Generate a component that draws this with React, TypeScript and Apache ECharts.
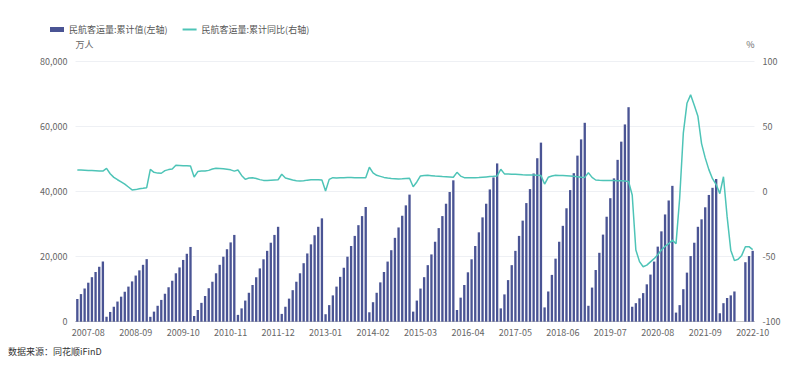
import React, { useEffect, useRef } from "react";
import * as echarts from "echarts";

// Monthly categories 2007-05 .. 2022-10
const startYear = 2007;
const startMonth = 5;
const monthCount = 186;
const categories: string[] = [];
for (let i = 0; i < monthCount; i++) {
  const m = startMonth - 1 + i;
  const y = startYear + Math.floor(m / 12);
  const mm = (m % 12) + 1;
  categories.push(`${y}-${mm < 10 ? "0" + mm : mm}`);
}

// 民航客运量:累计值 (万人), by year
const cum2007 = [7000, 8500, 10200, 12000, 13700, 15300, 16900, 18500];
const cum2008 = [1500, 3000, 4600, 6200, 7700, 9200, 10800, 12400, 14200, 15800, 17500, 19250];
const cum2009 = [1500, 3100, 4900, 6700, 8600, 10600, 12600, 14900, 16700, 19000, 20900, 23000];
const cum2010 = [1750, 3600, 5800, 7900, 10300, 12300, 14900, 17500, 20000, 22300, 24400, 26700];
const cum2011 = [2100, 4100, 6500, 8900, 11300, 13700, 16400, 19200, 21800, 24300, 26700, 29200];
const cum2012 = [2400, 4600, 7100, 9700, 12300, 14900, 18000, 21000, 23800, 26600, 29200, 31800];
const cum2013 = [2300, 5100, 8100, 10800, 13800, 16600, 20000, 23300, 26400, 29700, 32500, 35300];
const cum2014 = [2900, 6000, 8900, 12100, 15300, 18500, 22000, 25800, 29000, 32600, 35800, 39100];
const cum2015 = [3100, 6500, 10200, 13700, 17400, 20700, 24600, 28800, 32500, 36300, 39900, 43500];
const cum2016 = [3600, 7400, 11300, 15200, 19200, 23300, 27500, 32100, 36300, 40700, 44400, 48700];
const cum2017 = [4100, 8400, 12800, 17400, 21800, 26400, 31100, 36500, 40800, 45600, 50300, 55100];
const cum2018 = [4400, 9300, 14400, 19400, 24600, 29500, 34900, 40500, 45700, 51100, 56100, 61200];
const cum2019 = [4900, 10500, 15900, 21200, 26800, 32300, 38000, 44100, 49800, 55400, 60700, 66000];
const cum2020 = [4600, 5700, 7200, 8800, 11500, 14500, 18500, 23100, 27800, 33000, 37300, 41800];
const cum2021 = [2800, 5100, 10000, 15100, 20200, 24300, 29200, 31500, 35200, 39000, 41200, 43900];
const cum2022 = [2600, 5700, 7300, 8100, 9300, null, null, 18300, 20200, 21800];

// 民航客运量:累计同比 (%), by year
const yoy2007 = [16.7, 16.6, 16.5, 16.4, 16.3, 16.2, 16.0, 15.9];
const yoy2008 = [18.0, 13.8, 11.0, 9.2, 7.6, 5.8, 3.6, 1.4, 1.6, 2.2, 2.6, 3.1];
const yoy2009 = [17.2, 14.9, 14.3, 14.2, 16.2, 17.0, 17.4, 20.3, 20.2, 20.0, 19.9, 19.7];
const yoy2010 = [11.3, 15.5, 15.9, 16.0, 16.4, 17.4, 18.0, 17.9, 17.6, 17.2, 16.8, 15.8];
const yoy2011 = [16.7, 12.5, 9.5, 10.5, 10.8, 10.2, 9.3, 8.7, 8.6, 8.8, 9.0, 9.2];
const yoy2012 = [13.4, 10.5, 9.8, 9.0, 8.5, 8.3, 8.5, 8.9, 9.2, 9.2, 9.1, 9.0];
const yoy2013 = [0.5, 9.5, 10.8, 10.6, 10.7, 10.8, 10.9, 10.9, 10.8, 10.8, 10.8, 10.8];
const yoy2014 = [18.8, 14.5, 12.6, 11.8, 11.0, 10.5, 10.2, 10.0, 9.8, 9.9, 10.2, 10.3];
const yoy2015 = [3.8, 7.5, 12.1, 12.4, 12.6, 12.3, 12.0, 11.8, 11.6, 11.5, 11.3, 11.1];
const yoy2016 = [14.9, 12.0, 10.8, 10.7, 10.7, 10.8, 10.9, 11.2, 11.4, 11.6, 11.8, 12.1];
const yoy2017 = [17.2, 13.7, 13.6, 13.5, 13.4, 13.2, 13.0, 12.9, 12.8, 12.8, 12.7, 12.4];
const yoy2018 = [5.9, 11.1, 12.1, 12.6, 12.5, 12.4, 12.2, 12.0, 11.8, 11.5, 11.2, 11.0];
const yoy2019 = [14.6, 11.0, 9.0, 8.8, 8.7, 8.6, 8.6, 8.6, 8.5, 8.5, 8.2, 7.9];
const yoy2020 = [-2.5, -44.8, -53.8, -57.7, -56.5, -54.0, -51.5, -48.5, -44.8, -42.0, -40.0, -37.2];
const yoy2021 = [-40.0, -5.0, 45.0, 68.0, 74.5, 66.5, 58.0, 37.0, 26.0, 17.0, 10.0, 5.5];
const yoy2022 = [-1.5, 11.5, -19.2, -45.0, -53.0, -52.0, -49.0, -42.3, -42.3, -44.5];

const leftTicks = [0, 20000, 40000, 60000, 80000];
const rightTicks = [-100, -50, 0, 50, 100];

const barName = "民航客运量:累计值(左轴)";
const lineName = "民航客运量:累计同比(右轴)";

const cumValues = ([] as (number | null)[]).concat(
  cum2007, cum2008, cum2009, cum2010, cum2011, cum2012, cum2013, cum2014,
  cum2015, cum2016, cum2017, cum2018, cum2019, cum2020, cum2021, cum2022
);
const yoyValues = ([] as (number | null)[]).concat(
  yoy2007, yoy2008, yoy2009, yoy2010, yoy2011, yoy2012, yoy2013, yoy2014,
  yoy2015, yoy2016, yoy2017, yoy2018, yoy2019, yoy2020, yoy2021, yoy2022
);

const BAR_COLOR = "#4a5494";
const LINE_COLOR = "#4ec4b7";
const LABEL_COLOR = "#666";
const FONT = "'Noto Sans CJK SC', 'Noto Sans', sans-serif";

export default function App() {
  const ref = useRef<HTMLDivElement>(null);
  useEffect(() => {
    if (!ref.current) return;
    const chart = echarts.init(ref.current, undefined, { renderer: "svg" });
    chart.setOption({
      animation: false,
      backgroundColor: "#fff",
      textStyle: { fontFamily: FONT },
      legend: {
        left: 45,
        top: 20,
        itemWidth: 14,
        itemHeight: 5,
        itemGap: 15,
        textStyle: { fontSize: 9, color: "#555", fontFamily: FONT },
        data: [
          { name: barName, icon: "rect" },
          { name: lineName, icon: "path://M0,0 L14,0 L14,2 L0,2 Z", itemStyle: { color: LINE_COLOR } },
        ],
      },
      grid: { left: 75.5, right: 45.5, top: 61.7, bottom: 45.3, containLabel: false },
      xAxis: {
        type: "category",
        data: categories,
        axisLine: { show: true, lineStyle: { color: "#c8c8c8" } },
        axisTick: { show: false },
        axisLabel: {
          interval: (index: number) => (index - 3) % 13 === 0,
          color: LABEL_COLOR,
          fontSize: 9,
          margin: 6,
          fontFamily: FONT,
        },
      },
      yAxis: [
        {
          type: "value",
          min: leftTicks[0],
          max: leftTicks[leftTicks.length - 1],
          interval: 20000,
          name: "万人",
          nameLocation: "end",
          nameGap: 13,
          nameTextStyle: { color: LABEL_COLOR, fontSize: 9, align: "left", fontFamily: FONT },
          axisLine: { show: false },
          axisTick: { show: false },
          axisLabel: {
            color: LABEL_COLOR,
            fontSize: 9,
            margin: 8,
            fontFamily: FONT,
            formatter: (v: number) => v.toLocaleString("en-US"),
          },
          splitLine: { show: true, lineStyle: { color: "#eef0f4" } },
        },
        {
          type: "value",
          min: rightTicks[0],
          max: rightTicks[rightTicks.length - 1],
          interval: 50,
          name: "%",
          nameLocation: "end",
          nameGap: 13,
          nameTextStyle: { color: LABEL_COLOR, fontSize: 9, align: "right", fontFamily: FONT },
          axisLine: { show: false },
          axisTick: { show: false },
          axisLabel: { color: LABEL_COLOR, fontSize: 9, margin: 8, fontFamily: FONT },
          splitLine: { show: false },
        },
      ],
      graphic: [
        {
          type: "text",
          left: 8,
          top: 347,
          style: { text: "数据来源：同花顺iFinD", fill: "#333", fontSize: 9, fontFamily: FONT },
        },
      ],
      series: [
        {
          name: barName,
          type: "bar",
          yAxisIndex: 0,
          data: cumValues,
          barWidth: "64%",
          itemStyle: { color: BAR_COLOR },
        },
        {
          name: lineName,
          type: "line",
          yAxisIndex: 1,
          data: yoyValues,
          symbol: "none",
          connectNulls: true,
          lineStyle: { color: LINE_COLOR, width: 1.5 },
          itemStyle: { color: LINE_COLOR },
        },
      ],
    });
    return () => chart.dispose();
  }, []);
  return (
    <div
      ref={ref}
      style={{ position: "fixed", left: 0, top: 0, width: 800, height: 367, background: "#fff" }}
    />
  );
}
